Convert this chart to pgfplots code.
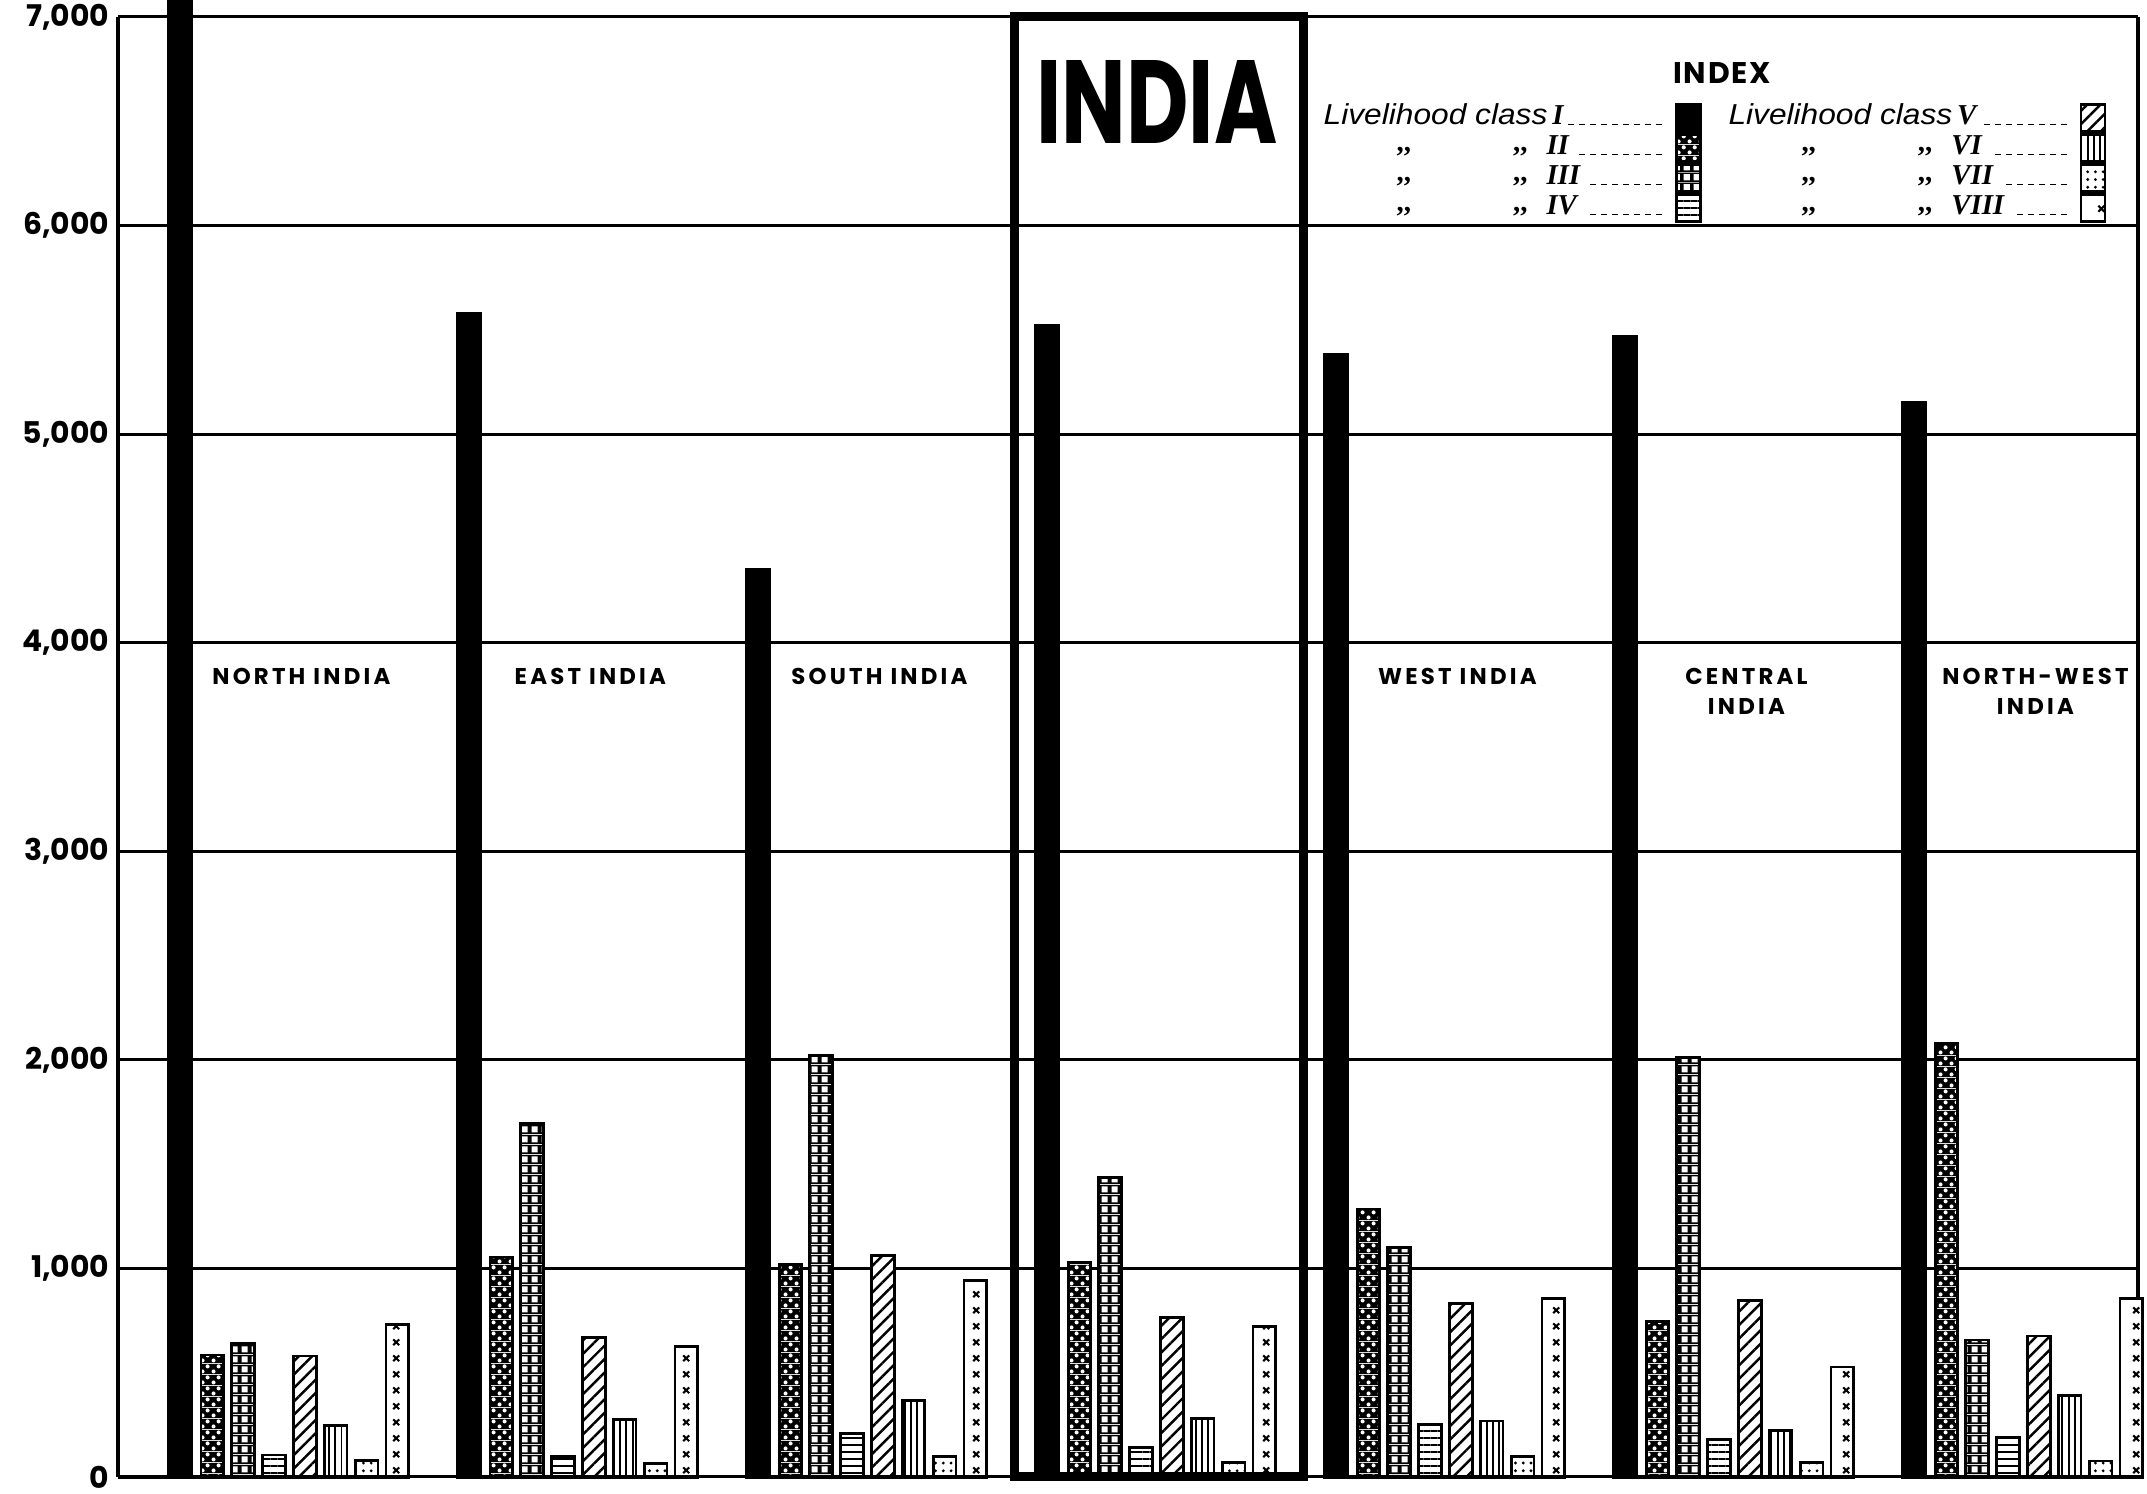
\documentclass[border=0pt]{standalone}
\usepackage{graphicx}
\usepackage{pgfplots}
\pgfplotsset{compat=1.18}
\usepackage{pgfplotstable}
\usepackage{fontspec}
\usetikzlibrary{patterns,patterns.meta}
\setmainfont{Liberation Sans}
\newfontfamily\pop{Poppins}
\newfontfamily\legfont{Liberation Sans}[FakeStretch=1.1]
\newfontfamily\rmn{Liberation Serif}

% dark cross-hatch: black with white holes
\pgfdeclarepatterninherentlycolored{darkx}{\pgfpointorigin}{\pgfqpoint{3pt}{3pt}}{\pgfqpoint{3pt}{3pt}}{%
  \pgfsetfillcolor{black}\pgfpathrectangle{\pgfpointorigin}{\pgfqpoint{3pt}{3pt}}\pgfusepath{fill}%
  \pgfsetfillcolor{white}%
  \pgfpathcircle{\pgfqpoint{0.75pt}{0.75pt}}{0.6pt}\pgfusepath{fill}%
  \pgfpathcircle{\pgfqpoint{2.25pt}{2.25pt}}{0.6pt}\pgfusepath{fill}%
}
% grid of white squares on black
\pgfdeclarepatterninherentlycolored{sqgrid}{\pgfpointorigin}{\pgfqpoint{2.85pt}{2.85pt}}{\pgfqpoint{2.85pt}{2.85pt}}{%
  \pgfsetfillcolor{black}\pgfpathrectangle{\pgfpointorigin}{\pgfqpoint{2.85pt}{2.85pt}}\pgfusepath{fill}%
  \pgfsetfillcolor{white}%
  \pgfpathrectangle{\pgfqpoint{0.5pt}{0.5pt}}{\pgfqpoint{1.85pt}{1.85pt}}\pgfusepath{fill}%
}
% small crosses
\pgfdeclarepatternformonly{xcross}{\pgfpointorigin}{\pgfqpoint{8.22pt}{4.6pt}}{\pgfqpoint{8.22pt}{4.6pt}}{%
  \pgfsetlinewidth{0.6pt}%
  \pgfpathmoveto{\pgfqpoint{5.2pt}{1.45pt}}\pgfpathlineto{\pgfqpoint{6.9pt}{3.15pt}}%
  \pgfpathmoveto{\pgfqpoint{5.2pt}{3.15pt}}\pgfpathlineto{\pgfqpoint{6.9pt}{1.45pt}}%
  \pgfusepath{stroke}%
}

\newcommand{\dashfill}{\leaders\hbox to 1.1mm{\hss\rule{0.55mm}{0.12mm}\hss}\hfill}
\newcommand{\ditto}{\raisebox{0.2ex}{{\rmn\bfseries ,,}}}
\newcommand{\numeral}[1]{{\rmn\bfseries\itshape #1}}
\newcommand{\entryA}[2][0mm]{\hspace*{#1}\makebox[35.1mm][l]{\itshape Livelihood class\,\numeral{#2}\dashfill\hspace*{0.3mm}}}
\newcommand{\entryB}[2][0mm]{\hspace*{#1}\makebox[35.1mm][l]{\hspace*{7.3mm}\ditto\hspace*{10.2mm}\ditto\hspace*{1.9mm}\numeral{#2}\dashfill\hspace*{0.3mm}}}

\pgfplotsset{
  barbase/.style={ybar, bar width=0.078, draw=black, line width=0.8pt,
    legend image code/.code={\draw[##1, line width=0.8pt] (0mm,-1.35mm) rectangle (2.4mm,1.35mm);}},
}
\tikzset{
  lab/.style={anchor=north, align=center, inner sep=0pt,
    font=\pop\bfseries\fontsize{6.5}{8.5}\selectfont\addfontfeature{LetterSpace=14}},
}

\pgfplotstableread{
g I II III IV V VI VII VIII
0 7080 585 640 105 580 245 80 730
1 5580 1055 1695 100 670 275 65 625
2 4350 1020 2020 208 1063 367 97 942
3 5520 1030 1435 140 765 280 70 722
4 5380 1285 1100 250 830 268 97 855
5 5470 745 2010 180 845 222 70 527
6 5150 2080 657 190 676 390 77 855
}\datatable

\begin{document}
\begin{tikzpicture}
\begin{axis}[name=ax,
  width=202mm, height=146mm, scale only axis, clip=false,
  xmin=-0.2145, xmax=6.775, ymin=0, ymax=7000,
  hide x axis,
  ytick={0,1000,...,7000}, scaled y ticks=false,
  /pgf/number format/1000 sep={,}, /pgf/number format/assume math mode=true,
  yticklabel style={font=\pop\bfseries\fontsize{8.5}{9}\selectfont, inner sep=0pt, xshift=-0.8mm},
  major tick length=0pt,
  ymajorgrids, grid style={black, line width=0.3mm},
  axis line style={line width=0.35mm},
  legend columns=2, legend plot pos=right, legend cell align=left,
  legend style={draw=none, fill=none, inner sep=0pt, at={(axis cs:3.955,6592)}, anchor=north west,
    column sep=0pt, row sep=0pt, font=\legfont\fontsize{8.2}{9}\selectfont,
    nodes={inner sep=0pt, text height=2.2mm, text depth=0.8mm}},
]
\addplot[barbase, bar shift=0, fill=black] table[x=g, y=I] {\datatable};
\addlegendentry{\entryA{I}}
\addplot[barbase, bar shift=0.432, fill=white, postaction={pattern={Lines[angle=45,distance=2.7pt,line width=0.7pt]}}] table[x=g, y=V] {\datatable};
\addlegendentry{\entryA[2.7mm]{V}}
\addplot[barbase, bar shift=0.112, fill=white, postaction={pattern=darkx}] table[x=g, y=II] {\datatable};
\addlegendentry{\entryB{II}}
\addplot[barbase, bar shift=0.539, fill=white, postaction={pattern={Lines[angle=90,distance=1.8pt,line width=0.5pt]}}] table[x=g, y=VI] {\datatable};
\addlegendentry{\entryB[2.7mm]{VI}}
\addplot[barbase, bar shift=0.218, fill=white, postaction={pattern=sqgrid}] table[x=g, y=III] {\datatable};
\addlegendentry{\entryB{III}}
\addplot[barbase, bar shift=0.646, fill=white, postaction={pattern={Dots[radius=0.45pt,distance=2.2pt]}}] table[x=g, y=VII] {\datatable};
\addlegendentry{\entryB[2.7mm]{VII}}
\addplot[barbase, bar shift=0.325, fill=white, postaction={pattern={Lines[angle=0,distance=2pt,line width=0.6pt]}}] table[x=g, y=IV] {\datatable};
\addlegendentry{\entryB{IV}}
\addplot[barbase, bar shift=0.752, fill=white, postaction={pattern=xcross}] table[x=g, y=VIII] {\datatable};
\addlegendentry{\entryB[2.7mm]{VIII}}

% broken baselines under each group
\draw[line width=0.4mm] (axis cs:-0.2145,0) -- (axis cs:0.795,0);
\pgfplotsinvokeforeach{1,2,4,5,6}{\draw[line width=0.4mm] (axis cs:#1-0.045,0) -- (axis cs:#1+0.795,0);}
% India box
\draw[line width=0.9mm] (axis cs:2.889,0) rectangle (axis cs:3.889,7000);
\node[inner sep=0pt] at (axis cs:3.381,6592) {\resizebox{24.1mm}{8.3mm}{\pop\bfseries INDIA}};
\node[inner sep=0pt] at (axis cs:5.336,6731) {\pop\bfseries\fontsize{8.5}{9}\selectfont\addfontfeature{LetterSpace=6}INDEX};
% region labels
\node[lab] at (axis cs:0.42,3880) {NORTH INDIA};
\node[lab] at (axis cs:1.42,3880) {EAST INDIA};
\node[lab] at (axis cs:2.42,3880) {SOUTH INDIA};
\node[lab] at (axis cs:4.42,3880) {WEST INDIA};
\node[lab] at (axis cs:5.42,3880) {CENTRAL\\INDIA};
\node[lab] at (axis cs:6.42,3880) {NORTH-WEST\\INDIA};
\end{axis}
\pgfresetboundingbox
\path[use as bounding box] (ax.south west) ++(-11.8mm,-1.7mm) rectangle ([shift={(0.9mm,1.7mm)}]ax.north east);
\end{tikzpicture}
\end{document}
